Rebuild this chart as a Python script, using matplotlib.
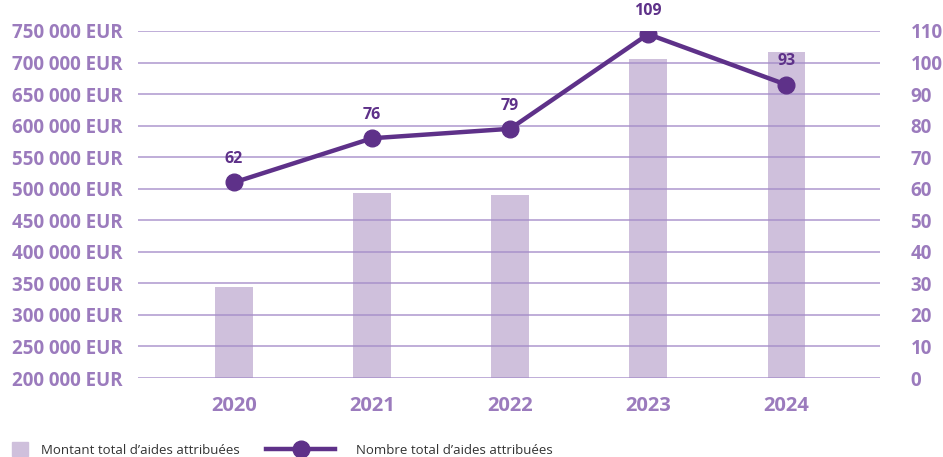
# Montant et nombre total d'aides attribuées, 2020-2024
import matplotlib
matplotlib.use("Agg")
import matplotlib.pyplot as plt
from matplotlib.patches import Patch
from matplotlib.lines import Line2D
from matplotlib.ticker import FuncFormatter

plt.rcParams['font.family'] = ['Open Sans', 'DejaVu Sans']

# Data
years = ['2020', '2021', '2022', '2023', '2024']
montant = [344000, 494000, 490000, 705000, 716000]
nombre = [62, 76, 79, 109, 93]

bar_color = '#cfc0dc'
line_color = '#5e3189'
text_color = '#9b7bbd'
grid_color = '#a58cc9'

fig = plt.figure(figsize=(9.43, 4.57), dpi=100)
ax = fig.add_axes([138/943, 1 - 378/457, (880-138)/943, (378-31)/457])
ax2 = ax.twinx()

x = range(len(years))
ax.bar(x, montant, width=0.27, color=bar_color, zorder=1)

ax.set_ylim(200000, 750000)
ax.set_yticks(range(200000, 750001, 50000))
ax.yaxis.set_major_formatter(FuncFormatter(lambda v, p: f'{int(v):,} EUR'.replace(',', ' ')))
ax.set_xlim(-0.696, 4.68)
ax.set_xticks(list(x))
ax.set_xticklabels(years)
ax.set_axisbelow(False)
ax.grid(axis='y', color=grid_color, linewidth=1.1, alpha=0.9)

ax2.plot(x, nombre, color=line_color, linewidth=3.2, marker='o', markersize=12, zorder=5)
ax2.set_ylim(0, 110)
ax2.set_yticks(range(0, 111, 10))
for xi, v in zip(x, nombre):
    ax2.annotate(str(v), (xi, v), xytext=(0, 11), textcoords='offset points',
                 ha='center', va='bottom', fontsize=11.5, fontweight='bold',
                 color=line_color, annotation_clip=False)

for a in (ax, ax2):
    for s in a.spines.values():
        s.set_visible(False)
    a.tick_params(length=0, colors=text_color, labelsize=13.5)
    for lbl in a.get_yticklabels() + a.get_xticklabels():
        lbl.set_fontweight('bold')
ax.tick_params(axis='x', labelsize=14.5)
ax.tick_params(axis='y', pad=11)
ax.tick_params(axis='x', pad=13)
ax2.tick_params(axis='y', pad=22)

# Legend
fig.legend([Patch(color=bar_color)], ['Montant total d\u2019aides attribuées'],
           loc='lower left', bbox_to_anchor=(0.0, -0.025), frameon=False,
           handlelength=1.2, handleheight=1.2, handletextpad=1.0,
           fontsize=9.5, labelcolor='#333333')
fig.legend([Line2D([0], [0], color=line_color, linewidth=3.2, marker='o', markersize=12)],
           ['Nombre total d\u2019aides attribuées'],
           loc='lower left', bbox_to_anchor=(0.27, -0.025), frameon=False,
           handlelength=5.2, handletextpad=1.6, fontsize=9.5, labelcolor='#333333')

fig.savefig('out.png', dpi=100)
